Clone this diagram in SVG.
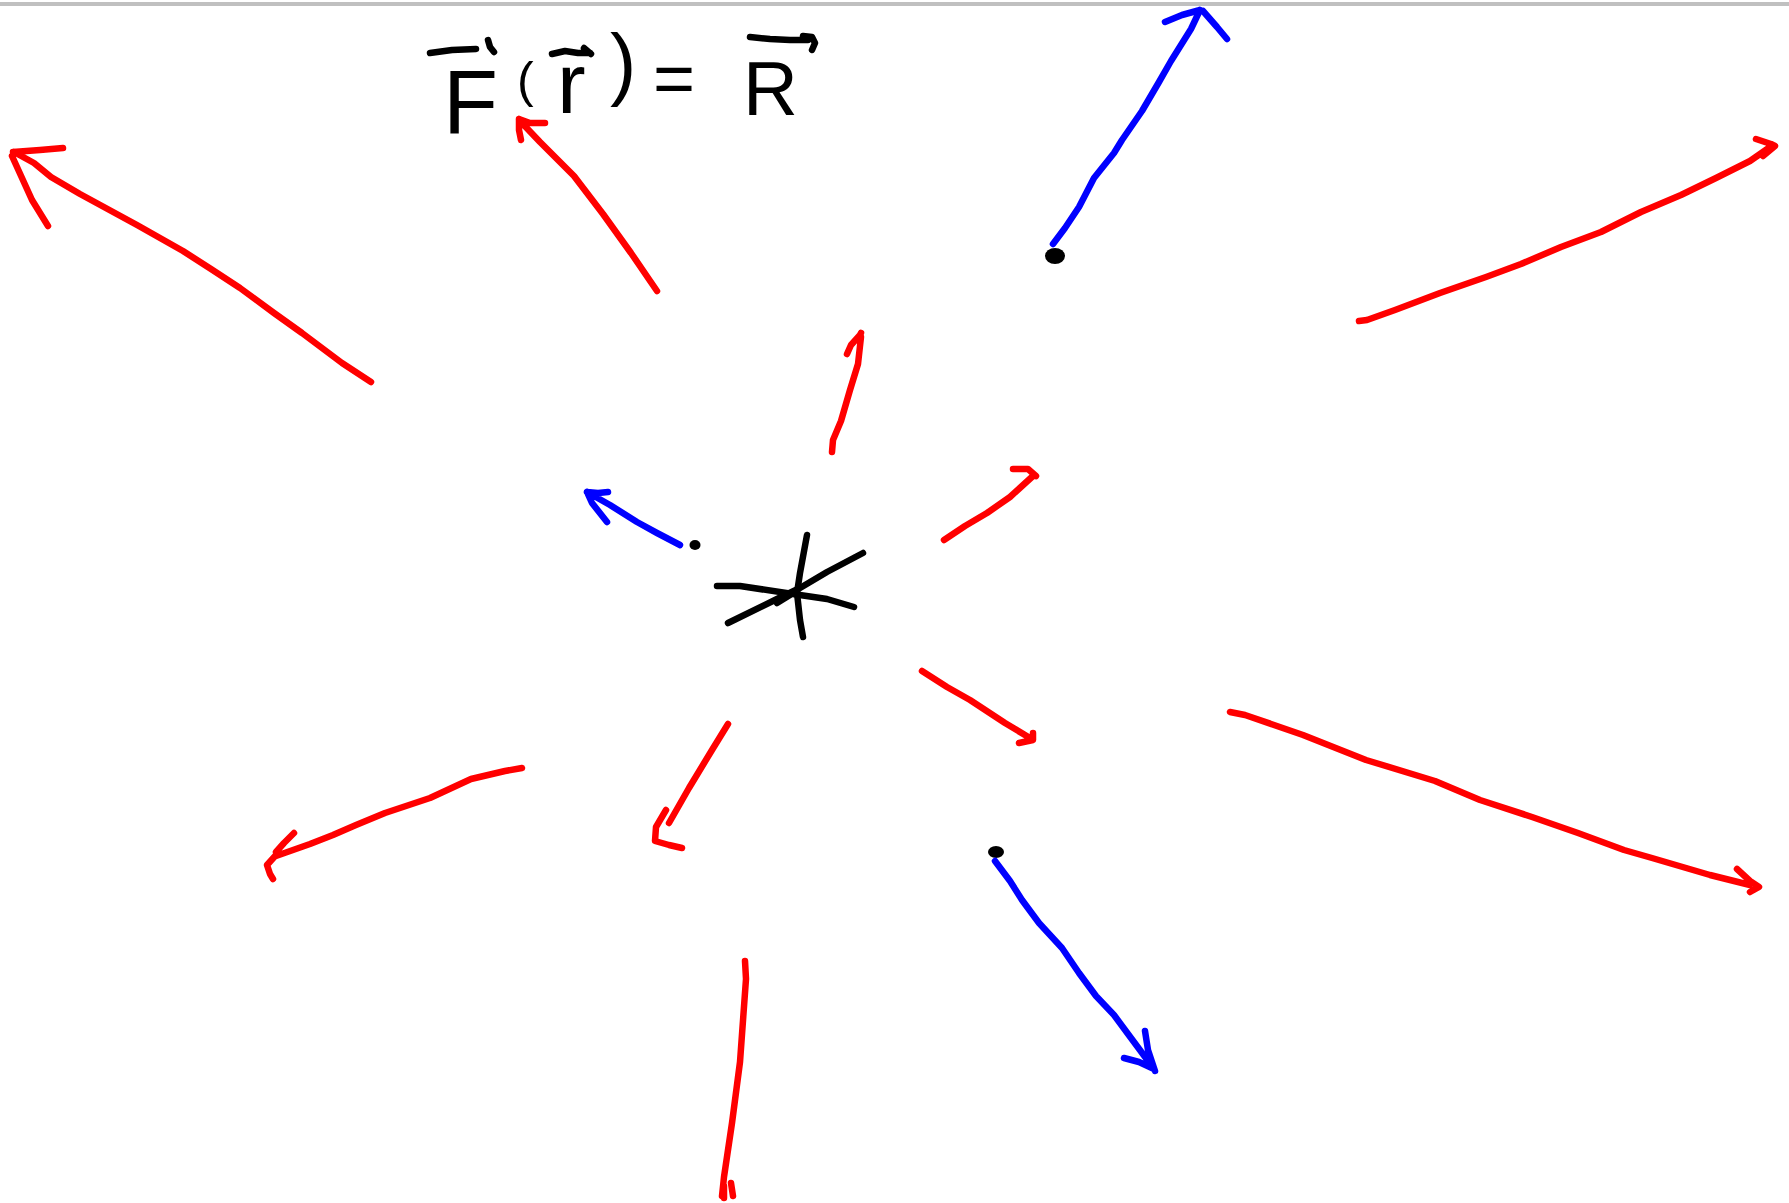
<svg xmlns="http://www.w3.org/2000/svg" width="1789" height="1203" viewBox="0 0 1789 1203">
<style>
.r{fill:none;stroke:#ff0000;stroke-width:6.5;stroke-linecap:round;stroke-linejoin:round}
.b{fill:none;stroke:#0000ff;stroke-width:6.5;stroke-linecap:round;stroke-linejoin:round}
.k{fill:none;stroke:#000;stroke-width:6.5;stroke-linecap:round;stroke-linejoin:round}
.t{font-family:"Liberation Sans",Arial,sans-serif;fill:#000}
</style>
<rect x="0" y="0" width="1789" height="1203" fill="#fff"/>
<rect x="0" y="2" width="1789" height="4" fill="#c0c0c0"/>
<g id="formula">
<text class="t" x="443" y="133" font-size="90">F</text>
<text class="t" x="517" y="97" font-size="50">(</text>
<text class="t" x="557" y="113" font-size="86">r</text>
<text class="t" x="610" y="90" font-size="79">)</text>
<text class="t" x="653" y="103" font-size="72">=</text>
<text class="t" x="743" y="115" font-size="76">R</text>
<path class="k" d="M430,53 L452,50 L476,49 M488,40 L490,47 L494,52"/>
<path class="k" d="M552,54 L565,51 L578,53 L590,53 M584,48 L591,54"/>
<path class="k" d="M750,37 L770,39 L790,40 L808,40 M803,36 L812,37 L815,43 L812,50"/>
</g>
<g id="source">
<path class="k" d="M807,535 L800,573 L797,593 L800,620 L803,637"/>
<path class="k" d="M717,586 L740,586 L793,594 L827,599 L854,607"/>
<path class="k" d="M728,623 L777,599 L800,588 L827,572 L863,553"/>
<path class="k" d="M777,603 L790,595"/>
</g>
<g id="dot-center"><ellipse cx="695" cy="545" rx="5.5" ry="5" fill="#000"/></g>
<g id="dot-top"><ellipse cx="1055" cy="256" rx="10" ry="8" fill="#000"/></g>
<g id="dot-bottom"><ellipse cx="996" cy="852" rx="8" ry="6" fill="#000"/></g>
<g id="connectors">
<path class="r" d="M371,382 L342,363 L302,333 L274,313 L240,288 L211,269 L183,251 L137,225 L80,194 L51,177 L34,163 L14,152 M13,152 L40,150 L63,148 M12,156 L32,200 L48,226"/>
<path class="r" d="M657,291 L631,253 L603,214 L574,176 L540,142 L521,122 M519,119 L530,123 L545,123 M519,119 L519,130 L521,140"/>
<path class="r" d="M832,452 L833,440 L841,421 L850,390 L858,364 L861,337 M847,354 L851,345 L860,335 L861,333"/>
<path class="b" d="M680,545 L657,533 L637,522 L610,505 L587,492 M587,492 L598,493 L608,492 M587,492 L592,503 L607,522"/>
<path class="b" d="M1053,244 L1065,228 L1079,207 L1094,178 L1114,153 L1122,140 L1142,111 L1159,82 L1171,61 L1191,29 L1200,10 M1200,10 L1182,15 L1165,22 M1203,11 L1217,27 L1227,39"/>
<path class="r" d="M1359,321 L1367,320 L1395,310 L1440,293 L1486,277 L1521,264 L1561,247 L1601,232 L1641,212 L1681,195 L1716,178 L1750,161 L1773,145 M1756,139 L1771,144 L1775,146 L1763,156"/>
<path class="r" d="M944,540 L965,526 L987,513 L1010,497 L1033,476 M1013,469 L1028,469 L1036,476"/>
<path class="r" d="M922,671 L947,687 L970,700 L1005,723 L1030,738 M1019,743 L1033,740 L1033,733"/>
<path class="r" d="M1230,712 L1245,715 L1303,735 L1366,760 L1435,781 L1480,800 L1532,817 L1578,833 L1624,850 L1652,858 L1710,875 L1750,885 M1737,869 L1750,881 L1759,887 L1750,892"/>
<path class="b" d="M995,861 L1010,881 L1022,900 L1039,923 L1062,948 L1079,973 L1096,996 L1114,1015 L1131,1038 L1154,1069 M1145,1031 L1148,1050 L1155,1071 M1124,1058 L1139,1062 L1154,1069"/>
<path class="r" d="M522,768 L505,771 L471,779 L430,798 L385,813 L356,825 L333,835 L310,844 L276,856 M294,833 L284,843 L276,852 M276,855 L267,865 L270,874 L273,879"/>
<path class="r" d="M728,724 L712,750 L689,788 L669,823 M666,810 L656,827 L655,841 L669,845 L682,848"/>
<path class="r" d="M745,961 L746,979 L740,1062 L732,1123 L724,1177 L722,1196 M724,1186 L724,1198 M731,1183 L733,1196"/>
</g>
</svg>
